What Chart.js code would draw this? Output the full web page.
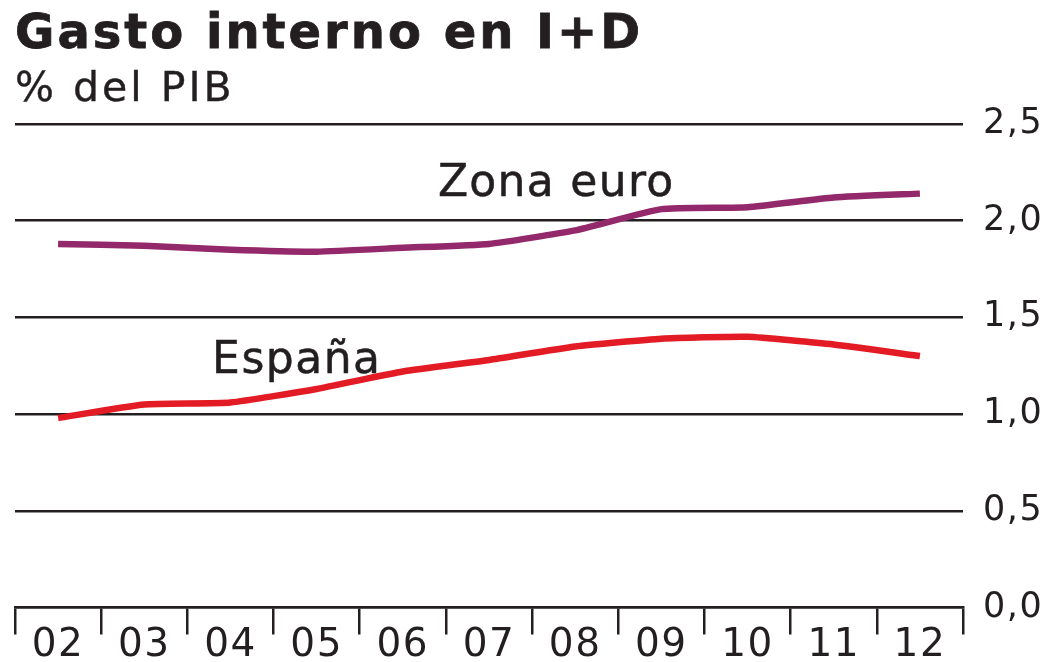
<!DOCTYPE html>
<html>
<head>
<meta charset="utf-8">
<script src="https://cdn.jsdelivr.net/npm/chart.js@4.4.1/dist/chart.umd.min.js"></script>
<style>
    html, body { margin: 0; padding: 0; background: #ffffff; }
    #wrap { position: relative; width: 1053px; height: 662px; overflow: hidden; }
    #chart { position: absolute; left: 0; top: 0; }
    .title, .subtitle { position: absolute; left: 15px; margin: 0; color: #231f20; font-family: 'DejaVu Sans', sans-serif; white-space: nowrap; }
    .title { top: 6.5px; font-size: 48px; line-height: 1; font-weight: bold; letter-spacing: 3px; -webkit-text-stroke: 0.8px #231f20; }
    .subtitle { top: 67px; font-size: 41px; line-height: 1; font-weight: normal; letter-spacing: 3px; -webkit-text-stroke: 0.4px #231f20; }
</style>
</head>
<body>
<div id="wrap">
    <canvas id="chart" width="1053" height="662"></canvas>
    <div class="title">Gasto interno en I+D</div>
    <div class="subtitle">% del PIB</div>
</div>
<script>
// --- DATA ---
const years = ['02', '03', '04', '05', '06', '07', '08', '09', '10', '11', '12'];
const zonaEuro = [1.88, 1.87, 1.85, 1.84, 1.86, 1.88, 1.95, 2.06, 2.07, 2.12, 2.14];
const espana = [0.98, 1.05, 1.06, 1.13, 1.22, 1.28, 1.35, 1.39, 1.40, 1.36, 1.30];
const yTicks = [0, 0.5, 1.0, 1.5, 2.0, 2.5];

// series name labels, placed in axis units (category index, value)
const seriesLabels = [
    { text: 'Zona euro', x: 5.78, y: 2.13, spacing: '1.3px' },
    { text: 'España', x: 2.77, y: 1.215, spacing: '1.5px' }
];

const INK = '#231f20';
const FONT = "'DejaVu Sans', sans-serif";

// --- PLUGIN: letter spacing for tick labels + series name labels ---
const textPlugin = {
    id: 'textPlugin',
    beforeDraw: (chart) => {
        chart.ctx.letterSpacing = '1.5px';
    },
    afterDatasetsDraw: (chart) => {
        const ctx = chart.ctx;
        const xs = chart.scales.x, ys = chart.scales.y;
        seriesLabels.forEach(l => {
            ctx.save();
            ctx.font = `44px ${FONT}`;
            ctx.letterSpacing = l.spacing;
            ctx.fillStyle = INK;
            ctx.strokeStyle = INK;
            ctx.lineWidth = 0.5;
            ctx.textAlign = 'center';
            ctx.textBaseline = 'alphabetic';
            const px = xs.getPixelForValue(l.x), py = ys.getPixelForValue(l.y);
            ctx.fillText(l.text, px, py);
            ctx.strokeText(l.text, px, py);
            ctx.restore();
        });
    }
};

new Chart(document.getElementById('chart').getContext('2d'), {
    type: 'line',
    data: {
        labels: years,
        datasets: [
            { label: 'Zona euro', data: zonaEuro, borderColor: '#93286a', borderWidth: 6.5, tension: 0.15, pointRadius: 0, borderCapStyle: 'butt' },
            { label: 'España', data: espana, borderColor: '#e21b24', borderWidth: 6.5, tension: 0.15, pointRadius: 0, borderCapStyle: 'butt' }
        ]
    },
    options: {
        responsive: false,
        animation: false,
        layout: { padding: { left: 15, right: 0, top: 124, bottom: 0 } },
        plugins: { legend: { display: false }, tooltip: { enabled: false } },
        scales: {
            x: {
                type: 'category',
                offset: true,
                grid: { offset: true, drawOnChartArea: false, drawTicks: true, tickLength: 27, color: INK, lineWidth: 2.5 },
                border: { display: true, color: INK, width: 2.5 },
                ticks: { font: { family: FONT, size: 39 }, color: INK, padding: -12, maxRotation: 0, autoSkip: false },
                afterFit: (scale) => { scale.height = 54.5; }
            },
            y: {
                position: 'right',
                min: 0,
                max: 2.5,
                afterBuildTicks: (scale) => { scale.ticks = yTicks.map(v => ({ value: v })); },
                grid: { drawTicks: false, color: INK, lineWidth: 2.5 },
                border: { display: false },
                ticks: {
                    font: { family: FONT, size: 35 }, color: INK, padding: 20,
                    callback: (v) => Number(v).toFixed(1).replace('.', ',')
                },
                afterFit: (scale) => { scale.width = 90; }
            }
        }
    },
    plugins: [textPlugin]
});
</script>
</body>
</html>
